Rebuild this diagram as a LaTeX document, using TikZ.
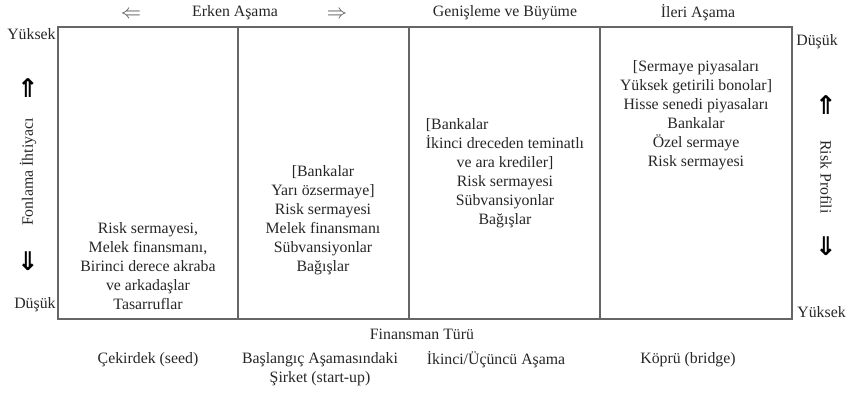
\documentclass[tikz,border=0pt]{standalone}
\usepackage{fontspec}
\setmainfont{Liberation Serif}
\newfontfamily\arrowfont{DejaVu Sans}
\usepackage{amsmath,amssymb}
\usetikzlibrary{positioning}

\begin{document}
\begin{tikzpicture}[
    x=0.03cm, y=-0.03cm,
    frame/.style={draw=black!60, line width=1.3pt},
    lbl/.style={font=\fontsize{13.5}{16.2}\selectfont, text=black!85, inner sep=1pt},
    cell/.style={lbl, align=center},
    thinarrow/.style={font=\fontsize{17}{17}\selectfont, text=black!70, inner sep=0pt},
    bigarrow/.style={font=\arrowfont\bfseries\fontsize{22}{22}\selectfont, inner sep=0pt}
]
\useasboundingbox (0,0) rectangle (848,393);

% frame with the four stage columns
\coordinate (tl) at (58,27);
\coordinate (br) at (792,319);
\draw[frame] (tl) rectangle (br);
\foreach \x in {238,409,600}
  \draw[frame] (\x,27) -- (\x,319);

% stage headings
\node[lbl] (early) at (235,13) {Erken Aşama};
\node[thinarrow] (earlyl) at (131,15) {$\Leftarrow$};
\node[thinarrow] (earlyr) at (337,15) {$\Rightarrow$};
\node[lbl] (growth) at (505,13) {Genişleme ve Büyüme};
\node[lbl] (late) at (698,13) {İleri Aşama};

% left axis
\node[lbl, anchor=east] (needhi) at (57,34) {Yüksek};
\node[lbl, anchor=east] (needlo) at (57,305) {Düşük};
\node[bigarrow] (needup) at (28,88) {⇑};
\node[lbl, rotate=90] (need) at (28,172) {Fonlama İhtiyacı};
\node[bigarrow] (needdn) at (28,261) {⇓};

% right axis
\node[lbl, anchor=west] (risklo) at (795,42) {Düşük};
\node[lbl, anchor=west] (riskhi) at (796,312) {Yüksek};
\node[bigarrow] (riskup) at (826,105) {⇑};
\node[lbl, rotate=-90] (risk) at (826,177) {Risk Profili};
\node[bigarrow] (riskdn) at (826,246) {⇓};

% financing sources per stage
\node[cell] (seedsrc) at (148,266) {Risk sermayesi,\\Melek finansmanı,\\Birinci derece akraba\\ve arkadaşlar\\Tasarruflar};
\node[cell] (startsrc) at (323,220) {[Bankalar\\Yarı özsermaye]\\Risk sermayesi\\Melek finansmanı\\Sübvansiyonlar\\Bağışlar};
\node[cell] (midsrc) at (505,173) {\rlap{[Bankalar}\hphantom{İkinci dreceden teminatlı}\\İkinci dreceden teminatlı\\ve ara krediler]\\Risk sermayesi\\Sübvansiyonlar\\Bağışlar};
\node[cell] (bridgesrc) at (696,115) {[Sermaye piyasaları\\Yüksek getirili bonolar]\\Hisse senedi piyasaları\\Bankalar\\Özel sermaye\\Risk sermayesi};

% bottom labels
\node[lbl] (kind) at (422,334) {Finansman Türü};
\node[lbl] (seed) at (148,360) {Çekirdek (seed)};
\node[cell, anchor=north] (start) at (320,351) {Başlangıç Aşamasındaki\\Şirket (start-up)};
\node[lbl] (second) at (496,360) {İkinci/Üçüncü Aşama};
\node[lbl] (bridge) at (688,360) {Köprü (bridge)};
\end{tikzpicture}
\end{document}
